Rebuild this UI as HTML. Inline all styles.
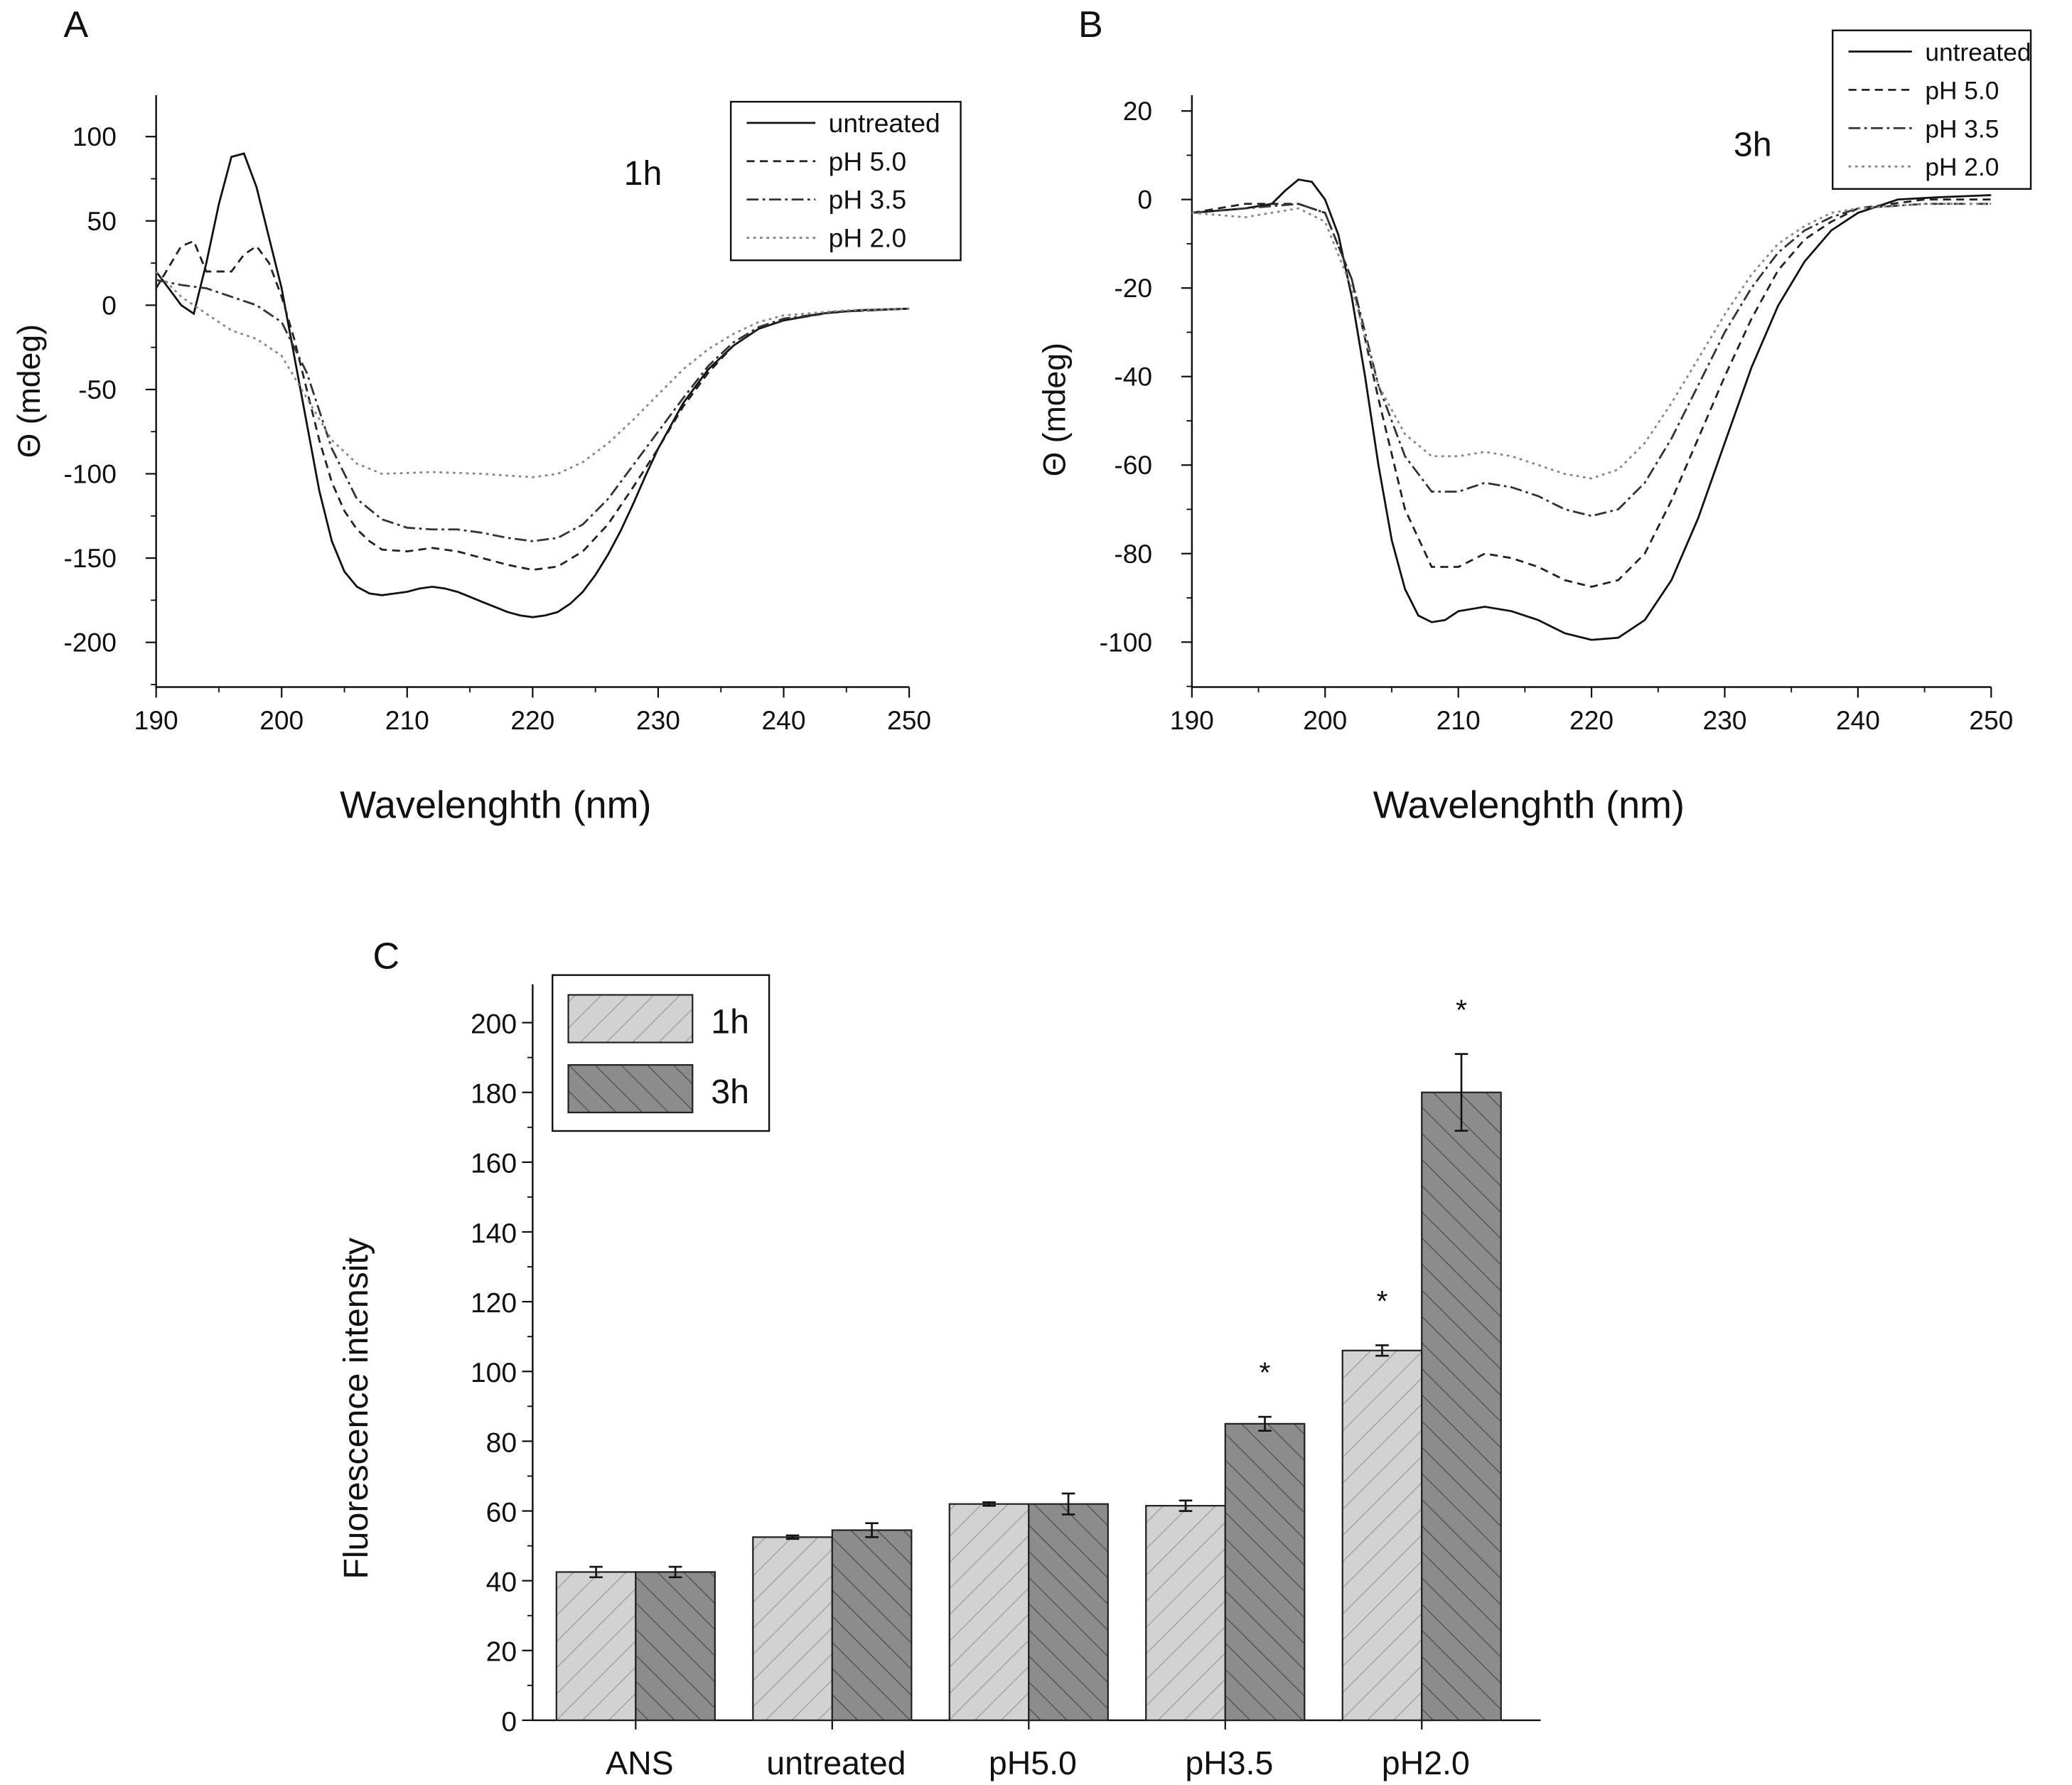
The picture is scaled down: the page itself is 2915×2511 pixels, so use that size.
<!DOCTYPE html>
<html><head><meta charset="utf-8"><style>
html,body{margin:0;padding:0;background:#fff}
svg{display:block}
text{font-family:"Liberation Sans",sans-serif;fill:#111}
</style></head><body>
<svg id="fig" width="2915" height="2511" viewBox="0 0 1568 1351" xmlns="http://www.w3.org/2000/svg">
<defs>
<pattern id="hatchL" patternUnits="userSpaceOnUse" width="14" height="14" patternTransform="rotate(45)">
<rect width="14" height="14" fill="#d2d2d2"/><line x1="0" y1="0" x2="0" y2="14" stroke="#9a9a9a" stroke-width="1.3"/></pattern>
<pattern id="hatchD" patternUnits="userSpaceOnUse" width="14" height="14" patternTransform="rotate(-45)">
<rect width="14" height="14" fill="#8c8c8c"/><line x1="0" y1="0" x2="0" y2="14" stroke="#4a4a4a" stroke-width="1.3"/></pattern>
</defs>
<g id="root"></g>
</svg>
<script>
// ---- Panel A data (1h) ----
const aUntX=[190,191,192,193,194,195,196,197,198,199,200,201,202,203,204,205,206,207,208,209,210,211,212,213,214,215,216,217,218,219,220,221,222,223,224,225,226,227,228,229,230,232,234,236,238,240,243,246,250];
const aUntY=[20,10,0,-5,25,60,88,90,70,40,10,-30,-70,-110,-140,-158,-167,-171,-172,-171,-170,-168,-167,-168,-170,-173,-176,-179,-182,-184,-185,-184,-182,-177,-170,-160,-148,-134,-118,-101,-85,-58,-38,-24,-14,-9,-5,-3,-2];
const a50X=[190,192,193,194,196,197,198,199,200,201,202,203,204,205,206,207,208,210,212,214,216,218,220,222,224,226,228,230,232,234,236,238,240,244,250];
const a50Y=[10,35,38,20,20,30,35,25,5,-20,-50,-80,-105,-122,-133,-140,-145,-146,-144,-146,-150,-154,-157,-155,-146,-130,-108,-85,-60,-40,-24,-14,-9,-4,-2];
const a35X=[190,192,194,196,198,200,202,204,206,208,210,212,214,216,218,220,222,224,226,228,230,232,234,236,238,240,244,250];
const a35Y=[15,12,10,5,0,-10,-40,-85,-115,-127,-132,-133,-133,-135,-138,-140,-138,-130,-115,-95,-75,-55,-36,-22,-13,-8,-4,-2];
const a20X=[190,192,194,196,198,200,202,204,206,208,212,216,220,222,224,226,228,230,232,234,236,238,240,245,250];
const a20Y=[20,5,-5,-15,-20,-30,-55,-80,-94,-100,-99,-100,-102,-100,-93,-82,-68,-53,-38,-26,-17,-10,-6,-3,-2];
const aYTicks=[100,50,0,-50,-100,-150,-200];
const xTicks=[190,200,210,220,230,240,250];
// ---- Panel B data (3h) ----
const bUntX=[190,194,196,197,198,199,200,201,202,203,204,205,206,207,208,209,210,212,214,216,218,220,222,224,226,228,230,232,234,236,238,240,243,246,250];
const bUntY=[-3,-2,-1,2,4.5,4,0,-8,-22,-40,-60,-77,-88,-94,-95.5,-95,-93,-92,-93,-95,-98,-99.5,-99,-95,-86,-72,-55,-38,-24,-14,-7,-3,0,0.5,1];
const bX=[190,194,198,200,202,204,206,208,210,212,214,216,218,220,222,224,226,228,230,232,234,236,238,240,245,250];
const b50Y=[-3,-1,-1,-3,-18,-45,-70,-83,-83,-80,-81,-83,-86,-87.5,-86,-80,-68,-54,-40,-27,-16,-9,-5,-2,0,0];
const b35Y=[-3,-2,-1,-3,-18,-42,-58,-66,-66,-64,-65,-67,-70,-71.5,-70,-64,-54,-42,-30,-20,-12,-7,-4,-2,-1,-1];
const b20Y=[-3,-4,-2,-5,-20,-42,-53,-58,-58,-57,-58,-60,-62,-63,-61,-55,-46,-36,-26,-17,-10,-6,-3,-2,-1,-1];
const bYTicks=[20,0,-20,-40,-60,-80,-100];
// ---- Panel C data ----
const categories=["ANS","untreated","pH5.0","pH3.5","pH2.0"];
const val1h=[42.5,52.5,62,61.5,106];
const err1h=[1.5,0.5,0.5,1.5,1.5];
const val3h=[42.5,54.5,62,85,180];
const err3h=[1.5,2,3,2,11];
const sig1h=[false,false,false,false,true];
const sig3h=[false,false,false,true,true];
const cYTicks=[0,20,40,60,80,100,120,140,160,180,200];

const NS="http://www.w3.org/2000/svg";
const root=document.getElementById('root');
function mk(tag,attrs,parent,txt){const e=document.createElementNS(NS,tag);for(const k in attrs)e.setAttribute(k,attrs[k]);if(txt!==undefined)e.textContent=txt;(parent||root).appendChild(e);return e;}
const styles={unt:"",p50:"6,4",p35:"9,3,2,3",p20:"2,3"};
const cols={unt:"#111",p50:"#222",p35:"#333",p20:"#888"};

function cdPanel(o){
  const g=mk('g',{});
  
  
  const sx=v=>o.x0+(v-190)*(o.x1-o.x0)/60;
  const sy=v=>o.yz+(0-v)*o.k;
  const ax=mk('path',{d:`M${o.x0},${o.top} V520 H${o.x1}`,fill:'none',stroke:'#111','stroke-width':1.3},g);
  
  xTicks.forEach(t=>{
    mk('line',{x1:sx(t),x2:sx(t),y1:520,y2:528,stroke:'#111','stroke-width':1.2},g);
    if(t<250)mk('line',{x1:sx(t+5),x2:sx(t+5),y1:520,y2:524,stroke:'#111','stroke-width':1},g);
    const tl=mk('text',{x:sx(t),y:552,'text-anchor':'middle','font-size':20},g,t);
    
  });
  o.yticks.forEach((t,i)=>{
    const y=sy(t);
    mk('line',{x1:o.x0-8,x2:o.x0,y1:y,y2:y,stroke:'#111','stroke-width':1.2},g);
    const h=sy(t-(o.yticks[0]-o.yticks[1])/2);
    if(h<520)mk('line',{x1:o.x0-4,x2:o.x0,y1:h,y2:h,stroke:'#111','stroke-width':1},g);
    const tl=mk('text',{x:o.x0-30,y:y+7,'text-anchor':'end','font-size':20},g,t);
    
  });
  const xt=mk('text',{x:o.xtx,y:619,'text-anchor':'middle','font-size':29},g,'Wavelenghth (nm)');
  
  const yt=mk('text',{x:0,y:0,'text-anchor':'middle','font-size':24,transform:`translate(${o.ytx},${o.yty}) rotate(-90)`},g,'\u0398 (mdeg)');
  
  const lt=mk('text',{x:o.lx,y:o.ly,'font-size':28},g,o.letter);
  
  const tt=mk('text',{x:o.tx,y:o.ty,'font-size':26},g,o.time);
  
  o.series.forEach(s=>{
    const d=s.x.map((v,i)=>(i?'L':'M')+sx(v).toFixed(1)+','+sy(s.y[i]).toFixed(1)).join(' ');
    const p=mk('path',{d,fill:'none',stroke:cols[s.k],'stroke-width':1.5,'stroke-dasharray':styles[s.k]},g);
    
  });
  const L=o.leg;
  const lb=mk('rect',{x:L.x,y:L.y,width:L.w,height:L.h,fill:'#fff',stroke:'#111','stroke-width':1.3},g);
  
  const names=["untreated","pH 5.0","pH 3.5","pH 2.0"],keys=["unt","p50","p35","p20"];
  names.forEach((n,i)=>{
    const y=L.y+16+i*L.step;
    mk('line',{x1:L.x+12,x2:L.x+L.ll,y1:y,y2:y,stroke:cols[keys[i]],'stroke-width':1.5,'stroke-dasharray':styles[keys[i]]},g);
    const e=mk('text',{x:L.x+L.ll+10,y:y+7,'font-size':L.fs},g,n);
    
  });
}
cdPanel({name:'panel-a-1h',x0:118,x1:688,top:72,yz:231,k:1.276,yticks:aYTicks,xtx:375,ytx:30,yty:296,lx:48,ly:28,letter:'A',tx:472,ty:140,time:'1h',
  series:[{k:'unt',x:aUntX,y:aUntY},{k:'p50',x:a50X,y:a50Y},{k:'p35',x:a35X,y:a35Y},{k:'p20',x:a20X,y:a20Y}],
  leg:{x:553,y:77,w:174,h:120,step:29,ll:64,fs:20}});
cdPanel({name:'panel-b-3h',x0:902,x1:1507,top:72,yz:151,k:3.35,yticks:bYTicks,xtx:1157,ytx:806,yty:310,lx:816,ly:28,letter:'B',tx:1312,ty:118,time:'3h',
  series:[{k:'unt',x:bUntX,y:bUntY},{k:'p50',x:bX,y:b50Y},{k:'p35',x:bX,y:b35Y},{k:'p20',x:bX,y:b20Y}],
  leg:{x:1387,y:23,w:150,h:120,step:29,ll:60,fs:19}});

// Panel C
(function(){
  const g=mk('g',{});
  
  
  const y0=1302,k=2.64,left=403,right=1166;
  const sy=v=>y0-v*k;
  const cx=i=>481+i*148.75;
  const ax=mk('path',{d:`M${left},745 V${y0} H${right}`,fill:'none',stroke:'#111','stroke-width':1.3},g);
  
  cYTicks.forEach(t=>{
    const y=sy(t);
    mk('line',{x1:left-8,x2:left,y1:y,y2:y,stroke:'#111','stroke-width':1.2},g);
    if(t<200)mk('line',{x1:left-4,x2:left,y1:sy(t+10),y2:sy(t+10),stroke:'#111','stroke-width':1},g);
    const tl=mk('text',{x:left-12,y:y+8,'text-anchor':'end','font-size':21},g,t);
    
  });
  const yt=mk('text',{x:0,y:0,'text-anchor':'middle','font-size':26,transform:`translate(278,1066) rotate(-90)`},g,'Fluorescence intensity');
  
  const lt=mk('text',{x:282,y:733,'font-size':28},g,'C');
  
  categories.forEach((c,i)=>{
    mk('line',{x1:cx(i),x2:cx(i),y1:y0,y2:y0+7,stroke:'#111','stroke-width':1.2},g);
    const tl=mk('text',{x:cx(i)+3,y:1343,'text-anchor':'middle','font-size':25},g,c);
    
    [[val1h,err1h,sig1h,'url(#hatchL)',-60,'1h'],[val3h,err3h,sig3h,'url(#hatchD)',0,'3h']].forEach(s=>{
      const v=s[0][i],e=s[1][i],x=cx(i)+s[4];
      const b=mk('rect',{x:x,y:sy(v),width:60,height:y0-sy(v),fill:s[3],stroke:'#222','stroke-width':1.2},g);
      
      const m=x+30;
      const eb=mk('path',{d:`M${m},${sy(v+e)} V${sy(v-e)} M${m-5},${sy(v+e)} H${m+5} M${m-5},${sy(v-e)} H${m+5}`,stroke:'#111','stroke-width':1.4,fill:'none'},g);
      
      if(s[2][i]){const st=mk('text',{x:m,y:sy(v+e)-26,'text-anchor':'middle','font-size':22},g,'*');
        }
    });
  });
  const lb=mk('rect',{x:418,y:738,width:164,height:118,fill:'#fff',stroke:'#111','stroke-width':1.3},g);
  
  [['url(#hatchL)','1h',753],['url(#hatchD)','3h',806]].forEach(l=>{
    mk('rect',{x:430,y:l[2],width:94,height:36,fill:l[0],stroke:'#222','stroke-width':1.2},g);
    const e=mk('text',{x:538,y:l[2]+29,'font-size':26},g,l[1]);
    
  });
})();
</script>
</body></html>
